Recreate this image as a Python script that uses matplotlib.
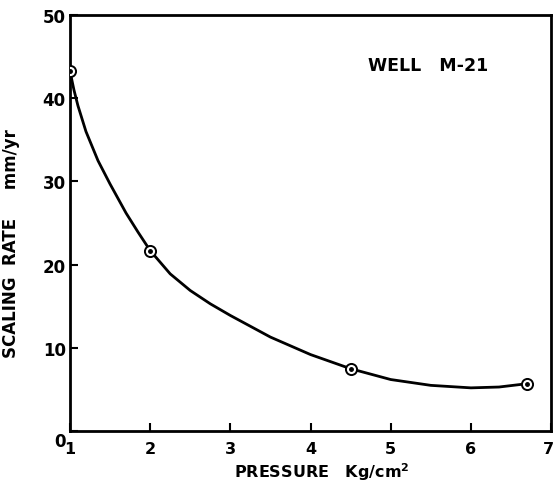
import matplotlib
matplotlib.use('Agg')
import matplotlib.pyplot as plt
import matplotlib.transforms as mtransforms

# measured points (circled)
pressure = [1.0, 2.0, 4.5, 6.7]
rate = [43.3, 21.7, 7.5, 5.7]

# points
curve_x = [1.0, 1.05, 1.1, 1.2, 1.35, 1.5, 1.7, 1.85, 2.0, 2.25, 2.5, 2.75, 3.0,
           3.5, 4.0, 4.5, 5.0, 5.5, 6.0, 6.35, 6.7]
curve_y = [43.3, 41.0, 39.1, 36.0, 32.5, 29.7, 26.2, 23.9, 21.7, 18.9, 16.9, 15.3, 13.9,
           11.3, 9.2, 7.5, 6.2, 5.5, 5.2, 5.3, 5.7]

xticks = [1, 2, 3, 4, 5, 6, 7]
yticks = [0, 10, 20, 30, 40, 50]

plt.rcParams['font.family'] = ['DejaVu Sans']
plt.rcParams['font.weight'] = 'bold'
plt.rcParams['axes.labelweight'] = 'bold'

fig = plt.figure(figsize=(5.55, 4.85), dpi=100)
ax = fig.add_axes([0.126, 0.109, 0.867, 0.858])

ax.plot(curve_x, curve_y, color='black', lw=2.0, zorder=2)
ax.plot(pressure, rate, 'o', ms=8, mfc='white', mec='black', mew=1.4, zorder=3)
ax.plot(pressure, rate, 'o', ms=2.5, color='black', zorder=4)

ax.set_xlim(1, 7)
ax.set_ylim(0, 50)
ax.set_xticks(xticks)
ax.set_yticks(yticks)
ax.tick_params(direction='in', length=6, width=1.5)
ax.tick_params(axis='x', labelsize=11.5, pad=7)
ax.tick_params(axis='y', labelsize=12, pad=3)

# the "0" sits low at the corner, the "7" is pulled in from the edge
lab0 = ax.get_yticklabels()[0]
lab0.set_transform(lab0.get_transform() +
                   mtransforms.ScaledTranslation(0, -0.08, fig.dpi_scale_trans))
lab7 = ax.get_xticklabels()[-1]
lab7.set_transform(lab7.get_transform() +
                   mtransforms.ScaledTranslation(-0.03, 0, fig.dpi_scale_trans))

for s in ax.spines.values():
    s.set_linewidth(2)

ax.set_xlabel(r'PRESSURE   Kg/cm$^{\mathbf{2}}$', fontsize=11.5, fontweight='bold')
ax.xaxis.set_label_coords(0.524, -0.07)
ax.set_ylabel('SCALING  RATE     mm/yr', fontsize=12, fontweight='bold')
ax.yaxis.set_label_coords(-0.104, 0.454)
ax.text(4.72, 43.4, 'WELL   M-21', fontsize=12.5, fontweight='bold')

fig.savefig('out.png', dpi=100)
